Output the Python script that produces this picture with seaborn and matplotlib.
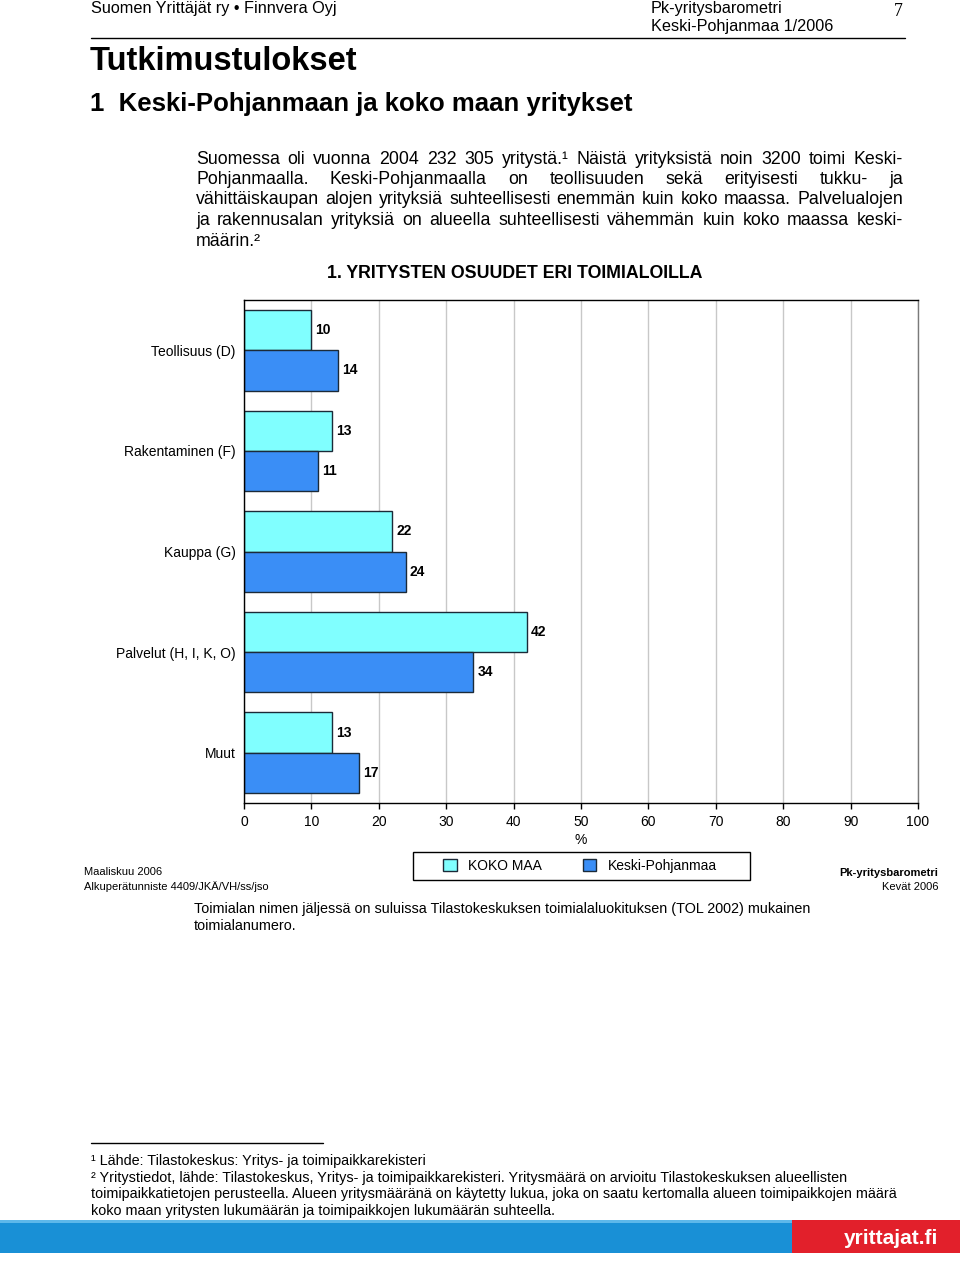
import matplotlib
matplotlib.use("Agg")
import matplotlib.pyplot as plt
from matplotlib.patches import Rectangle
from matplotlib.lines import Line2D
import pandas as pd
import seaborn as sns

# --- data ---
toimialat = ["Teollisuus (D)", "Rakentaminen (F)", "Kauppa (G)",
             "Palvelut (H, I, K, O)", "Muut"]
koko_maa = [10, 13, 22, 42, 13]
keski_pohjanmaa = [14, 11, 24, 34, 17]
alueet = ["KOKO MAA", "Keski-Pohjanmaa"]
x_ticks = [0, 10, 20, 30, 40, 50, 60, 70, 80, 90, 100]

body_lines = [
    "Suomessa oli vuonna 2004 232 305 yritystä.¹ Näistä yrityksistä noin 3200 toimi Keski-",
    "Pohjanmaalla. Keski-Pohjanmaalla on teollisuuden sekä erityisesti tukku- ja",
    "vähittäiskaupan alojen yrityksiä suhteellisesti enemmän kuin koko maassa. Palvelualojen",
    "ja rakennusalan yrityksiä on alueella suhteellisesti vähemmän kuin koko maassa keski-",
    "määrin.²",
]
footnotes = [
    "¹ Lähde: Tilastokeskus: Yritys- ja toimipaikkarekisteri",
    "² Yritystiedot, lähde: Tilastokeskus, Yritys- ja toimipaikkarekisteri. Yritysmäärä on arvioitu Tilastokeskuksen alueellisten",
    "toimipaikkatietojen perusteella. Alueen yritysmääränä on käytetty lukua, joka on saatu kertomalla alueen toimipaikkojen määrä",
    "koko maan yritysten lukumäärän ja toimipaikkojen lukumäärän suhteella.",
]

df = pd.DataFrame({
    "Toimiala": toimialat * 2,
    "Osuus": koko_maa + keski_pohjanmaa,
    "Alue": [alueet[0]] * len(toimialat) + [alueet[1]] * len(toimialat),
})

sns.set_style("white")
plt.rcParams["font.family"] = ["Liberation Sans", "DejaVu Sans"]
plt.rcParams["text.color"] = "black"
plt.rcParams["axes.labelcolor"] = "black"
plt.rcParams["xtick.color"] = "black"
plt.rcParams["ytick.color"] = "black"

W, H = 960, 1261
fig = plt.figure(figsize=(W / 100, H / 100), dpi=100)
fig.patch.set_facecolor("white")


def fx(px):
    return px / W


def fy(py):
    return 1 - py / H


# --- header ---
fig.text(fx(91), fy(9), "Suomen Yrittäjät ry • Finnvera Oyj", fontsize=11.7, va="center")
fig.text(fx(651), fy(9), "Pk-yritysbarometri", fontsize=11.7, va="center")
fig.text(fx(651), fy(27), "Keski-Pohjanmaa 1/2006", fontsize=11.7, va="center")
fig.text(fx(903), fy(11), "7", fontsize=13, va="center", ha="right", family="Liberation Serif")
fig.add_artist(Line2D([fx(91), fx(905)], [fy(37.5), fy(37.5)], color="black", lw=1,
                      transform=fig.transFigure))
fig.text(fx(90), fy(61), "Tutkimustulokset", fontsize=23.5, fontweight="bold", va="center")
fig.text(fx(90), fy(104), "1  Keski-Pohjanmaan ja koko maan yritykset", fontsize=18.5,
         fontweight="bold", va="center")

# --- justified body text ---
renderer = fig.canvas.get_renderer()


def justified(line, x0, x1, y, size, justify=True):
    words = line.split(" ")
    txts = [fig.text(0, fy(y), w, fontsize=size, va="center") for w in words]
    widths = [t.get_window_extent(renderer).width for t in txts]
    gap = (x1 - x0 - sum(widths)) / (len(words) - 1) if justify and len(words) > 1 else size * 0.35
    x = x0
    for t, w in zip(txts, widths):
        t.set_x(fx(x))
        x += w + gap


for i, line in enumerate(body_lines):
    justified(line, 196, 903, 159 + i * 20.5, 12.8, justify=(i < len(body_lines) - 1))

fig.text(fx(515), fy(274), "1. YRITYSTEN OSUUDET ERI TOIMIALOILLA", fontsize=12.8,
         fontweight="bold", ha="center", va="center")

# --- chart ---
ax = fig.add_axes([fx(244), fy(803), fx(918) - fx(244), (803 - 300) / H])
sns.barplot(data=df, y="Toimiala", x="Osuus", hue="Alue", orient="h",
            palette=["#80FFFF", "#3A8EF6"], edgecolor="#1b2a38", linewidth=1,
            width=0.8, ax=ax, saturation=1)
for cont in ax.containers:
    ax.bar_label(cont, fmt="%g", padding=3, fontsize=10, fontweight="bold")

handles, labels = ax.get_legend_handles_labels()
ax.get_legend().remove()

ax.set_xlim(0, 100)
ax.set_ylim(4.5, -0.5)
ax.set_xticks(x_ticks)
ax.set_xticklabels([str(v) for v in x_ticks])
ax.xaxis.grid(True, color="#c8c8c8", lw=1)
ax.set_axisbelow(True)
ax.set_xlabel("%", fontsize=10, labelpad=3)
ax.set_ylabel("")
ax.tick_params(axis="x", length=4, width=1, direction="out", labelsize=10, pad=4.5,
               bottom=True, color="black")
ax.tick_params(axis="y", length=0, labelsize=10, pad=6)
for s in ax.spines.values():
    s.set_visible(True)
    s.set_color("black")
    s.set_linewidth(1)
ax.spines["right"].set_color("#7a7a7a")

# legend box drawn separately (wide side padding)
fig.add_artist(Rectangle((fx(413), fy(880)), fx(750) - fx(413), (880 - 852) / H,
                         transform=fig.transFigure, facecolor="white", edgecolor="black",
                         lw=1))
leg = fig.legend(handles, labels, loc="center", bbox_to_anchor=(fx(580), fy(866)), ncol=2,
                 frameon=False, fontsize=10, handlelength=1.0, handleheight=1.0,
                 handletextpad=0.8, columnspacing=2.9, borderaxespad=0)
for h in leg.legend_handles:
    h.set_edgecolor("#1b2a38")

# --- notes below chart ---
fig.text(fx(84), fy(872), "Maaliskuu 2006", fontsize=8, va="center")
fig.text(fx(84), fy(887), "Alkuperätunniste 4409/JKÄ/VH/ss/jso", fontsize=8, va="center")
fig.text(fx(938), fy(873), "Pk-yritysbarometri", fontsize=8, fontweight="bold", va="center",
         ha="right")
fig.text(fx(938), fy(887), "Kevät 2006", fontsize=8, va="center", ha="right")
fig.text(fx(194), fy(909), "Toimialan nimen jäljessä on suluissa Tilastokeskuksen "
         "toimialaluokituksen (TOL 2002) mukainen", fontsize=10.4, va="center")
fig.text(fx(194), fy(925.5), "toimialanumero.", fontsize=10.4, va="center")

# --- footnotes ---
fig.add_artist(Line2D([fx(91), fx(323)], [fy(1143), fy(1143)], color="black", lw=1,
                      transform=fig.transFigure))
for i, line in enumerate(footnotes):
    fig.text(fx(91), fy(1161 + i * 16.6), line, fontsize=10.4, va="center")

# --- bottom band ---
fig.add_artist(Rectangle((0, fy(1253)), 1, (1253 - 1220) / H, transform=fig.transFigure,
                         facecolor="#1990D6", edgecolor="none"))
fig.add_artist(Rectangle((0, fy(1223)), 1, 3 / H, transform=fig.transFigure,
                         facecolor="#5DB8EA", edgecolor="none"))
fig.add_artist(Rectangle((fx(792), fy(1253)), 1 - fx(792), (1253 - 1220) / H,
                         transform=fig.transFigure, facecolor="#E2202B", edgecolor="none"))
fig.text(fx(891), fy(1238), "yrittajat.fi", fontsize=15, fontweight="bold", color="white",
         ha="center", va="center")

fig.savefig("out.png", dpi=100, facecolor="white")
